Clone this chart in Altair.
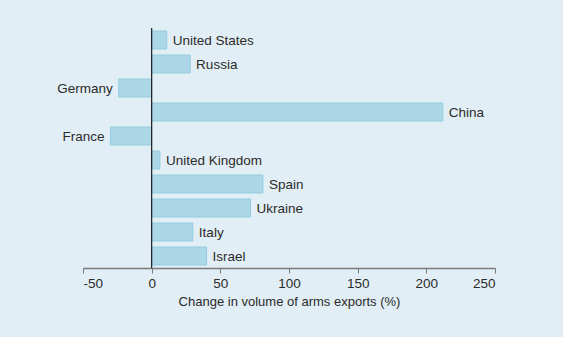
import altair as alt
import pandas as pd

countries = ["United States", "Russia", "Germany", "China", "France",
             "United Kingdom", "Spain", "Ukraine", "Italy", "Israel"]
changes = [11, 28, -24, 212, -30, 6, 81, 72, 30, 40]

df = pd.DataFrame({"country": countries, "change": changes})

FONT = "Liberation Sans"
TXT = "#2b2b2b"

x = alt.X("change:Q", scale=alt.Scale(domain=[-50, 250], nice=False),
          axis=alt.Axis(values=[-50, 0, 50, 100, 150, 200, 250], labelExpr="'' + datum.value",
                        title="Change in volume of arms exports (%)",
                        grid=False, domainColor="#7a7a7a", domainWidth=1.5, tickColor="#7a7a7a",
                        tickSize=5, labelFontSize=13.5, labelColor=TXT, labelFont=FONT,
                        titleFont=FONT, titleFontSize=13, titleFontWeight="normal",
                        titleColor=TXT, titlePadding=6, labelPadding=3))
y = alt.Y("country:N", sort=countries,
          scale=alt.Scale(paddingInner=0.25, paddingOuter=0.125),
          axis=None)

bars = alt.Chart(df).mark_bar(color="#acd7e6", stroke="#93cde2", strokeWidth=1).encode(x=x, y=y)

lab_pos = alt.Chart(df).transform_filter("datum.change >= 0").mark_text(
    align="left", baseline="middle", dx=6, dy=1, fontSize=13.5, font=FONT, color=TXT
).encode(x="change:Q", y=y, text="country:N")

lab_neg = alt.Chart(df).transform_filter("datum.change < 0").mark_text(
    align="right", baseline="middle", dx=-6, dy=1, fontSize=13.5, font=FONT, color=TXT
).encode(x="change:Q", y=y, text="country:N")

zero = alt.Chart(pd.DataFrame({"z": [0]})).mark_rule(color="#1a1a1a", strokeWidth=1.2).encode(
    x="z:Q", y=alt.value(0), y2=alt.value(240))

chart = alt.layer(bars, lab_pos, lab_neg, zero).properties(
    width=412, height=240, background="#e2eef5",
    padding={"left": 83, "top": 28, "right": 68, "bottom": 69},
    autosize=alt.AutoSizeParams(type="none")
).configure_view(stroke=None)

chart.save("out.html", embed_options={"renderer": "svg", "actions": False})
